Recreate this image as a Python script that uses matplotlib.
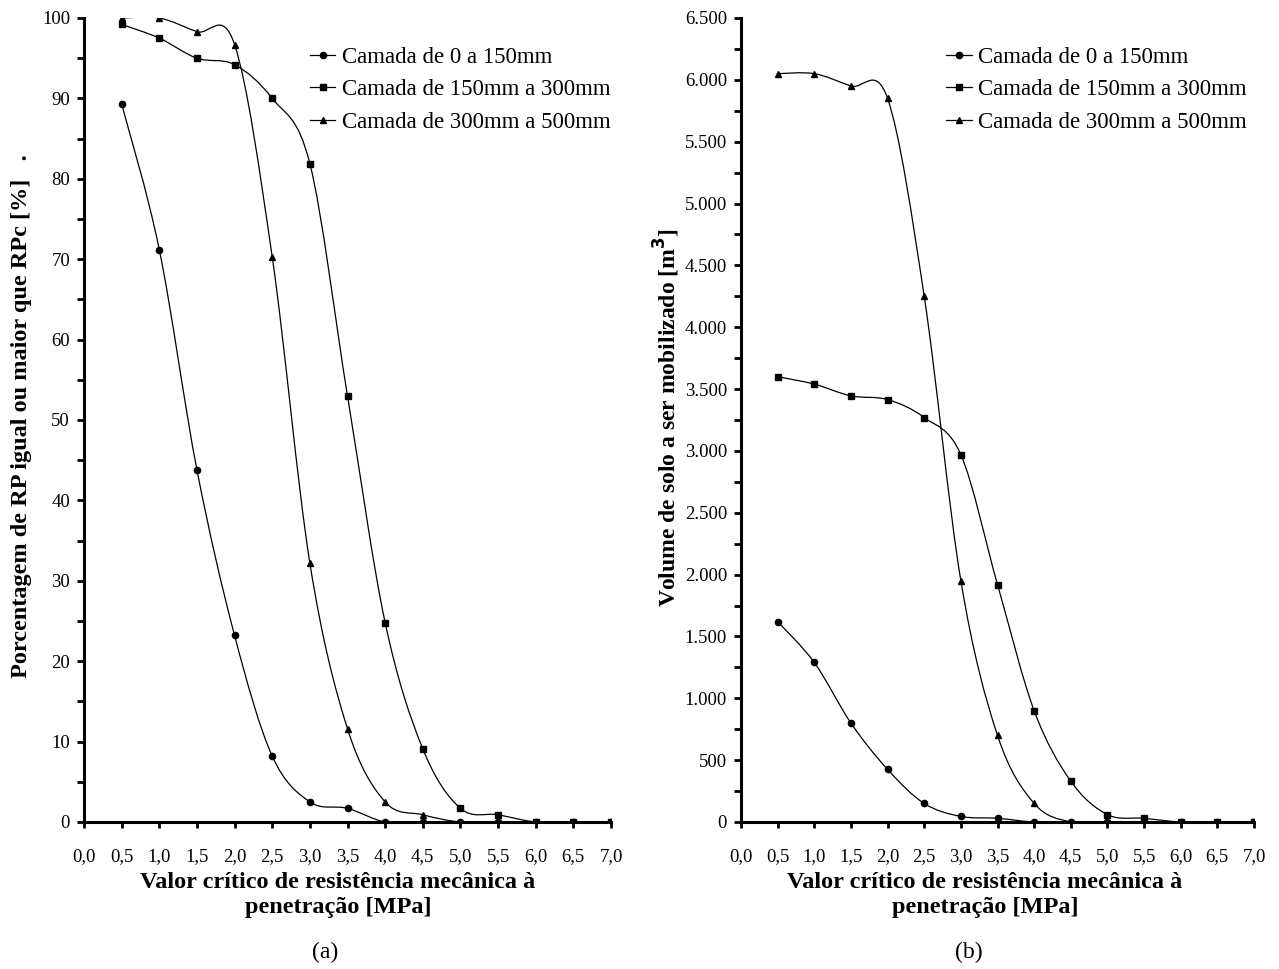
import numpy as np
import matplotlib.pyplot as plt
from matplotlib.path import Path
from matplotlib.patches import PathPatch
from matplotlib.lines import Line2D
from matplotlib.ticker import MultipleLocator, FuncFormatter

plt.rcParams['font.family'] = ['Liberation Serif', 'DejaVu Serif']

# valores criticos de RP [MPa]
x = [0.5, 1.0, 1.5, 2.0, 2.5, 3.0, 3.5, 4.0, 4.5, 5.0, 5.5, 6.0, 6.5, 7.0]

legendas = ["Camada de 0 a 150mm", "Camada de 150mm a 300mm", "Camada de 300mm a 500mm"]
marcadores = ["o", "s", "^"]

# (a) porcentagem de RP >= RPc [%]
pct_0_150 = [89.3, 71.2, 43.8, 23.2, 8.2, 2.5, 1.7, 0, 0, 0, 0, 0, 0, 0]
pct_150_300 = [99.2, 97.5, 95.0, 94.2, 90.0, 81.9, 53.0, 24.8, 9.1, 1.7, 0.9, 0, 0, 0]
pct_300_500 = [100, 100, 98.3, 96.7, 70.3, 32.2, 11.6, 2.5, 0.9, 0, 0, 0, 0, 0]

# (b) volume de solo a ser mobilizado [m3]
vol_0_150 = [1620, 1290, 800, 425, 150, 45, 30, 0, 0, 0, 0, 0, 0, 0]
vol_150_300 = [3600, 3540, 3445, 3415, 3270, 2970, 1920, 900, 330, 60, 30, 0, 0, 0]
vol_300_500 = [6050, 6050, 5950, 5850, 4250, 1950, 700, 150, 0, 0, 0, 0, 0, 0]


def curva_suave(xs, ys):
    # linha suavizada tipo Excel (Catmull-Rom -> Bezier)
    pts = np.column_stack([xs, ys]).astype(float)
    p = np.vstack([pts[0], pts, pts[-1]])
    verts = [pts[0]]
    codes = [Path.MOVETO]
    for i in range(1, len(p) - 2):
        c1 = p[i] + (p[i + 1] - p[i - 1]) / 6
        c2 = p[i + 1] - (p[i + 2] - p[i]) / 6
        verts += [c1, c2, p[i + 1]]
        codes += [Path.CURVE4] * 3
    return Path(verts, codes)


def painel(ax, series, ymax, ystep, fmt):
    for ys, m in zip(series, marcadores):
        ax.add_patch(PathPatch(curva_suave(x, ys), fill=False, ec="black", lw=0.9))
        ax.plot(x, ys, ls="none", marker=m, color="black", ms=5 if m != "o" else 4.5)
    ax.set_xlim(0, 7.0)
    ax.set_ylim(0, ymax)
    for s in ["top", "right"]:
        ax.spines[s].set_visible(False)
    for s in ["left", "bottom"]:
        ax.spines[s].set_linewidth(2.2)
    ax.xaxis.set_major_locator(MultipleLocator(0.5))
    ax.xaxis.set_major_formatter(FuncFormatter(lambda v, p: f"{v:.1f}".replace(".", ",")))
    ax.yaxis.set_major_locator(MultipleLocator(ystep))
    ax.yaxis.set_minor_locator(MultipleLocator(ystep / 2))
    ax.yaxis.set_major_formatter(FuncFormatter(fmt))
    ax.tick_params(axis="x", direction="out", length=4, width=2, pad=15, labelsize=13.5)
    ax.tick_params(axis="y", which="both", direction="out", length=5, width=2, pad=5, labelsize=13.5)
    hs = [Line2D([], [], color="black", lw=0.9, marker=m, ms=4.5) for m in marcadores]
    return hs


fig = plt.figure(figsize=(12.79, 9.69), dpi=100)
W, H = 1279, 969
ax1 = fig.add_axes([84 / W, (H - 822) / H, 527 / W, 804 / H])
ax2 = fig.add_axes([741 / W, (H - 822) / H, 513 / W, 804 / H])

h1 = painel(ax1, [pct_0_150, pct_150_300, pct_300_500], 100, 10, lambda v, p: f"{v:.0f}")
h2 = painel(ax2, [vol_0_150, vol_150_300, vol_300_500], 6500, 500,
            lambda v, p: f"{v:,.0f}".replace(",", "."))

ax1.legend(h1, legendas, loc="upper left", bbox_to_anchor=(0.39, 0.99), frameon=False,
           fontsize=16.5, handlelength=1.1, handletextpad=0.3, labelspacing=0.5)
ax2.legend(h2, legendas, loc="upper left", bbox_to_anchor=(0.36, 0.99), frameon=False,
           fontsize=16.5, handlelength=1.1, handletextpad=0.3, labelspacing=0.5)

fig.text(22 / W, 1 - 416 / H, "Porcentagem de RP igual ou maior que RPc [%]   .",
         rotation=90, ha="center", va="center", fontsize=17.5, fontweight="bold")
fig.text(667 / W, 1 - 418 / H, "Volume de solo a ser mobilizado [m$^\\mathbf{3}$]",
         rotation=90, ha="center", va="center", fontsize=17, fontweight="bold")

for cx, cl, letra in [(338, 325, "(a)"), (985, 969, "(b)")]:
    fig.text(cx / W, 1 - 895 / H, "Valor crítico de resistência mecânica à\npenetração [MPa]",
             ha="center", va="center", fontsize=17.5, fontweight="bold", linespacing=1.3)
    fig.text(cl / W, 1 - 952 / H, letra, ha="center", va="center", fontsize=17)

plt.savefig("out.png", dpi=100)
